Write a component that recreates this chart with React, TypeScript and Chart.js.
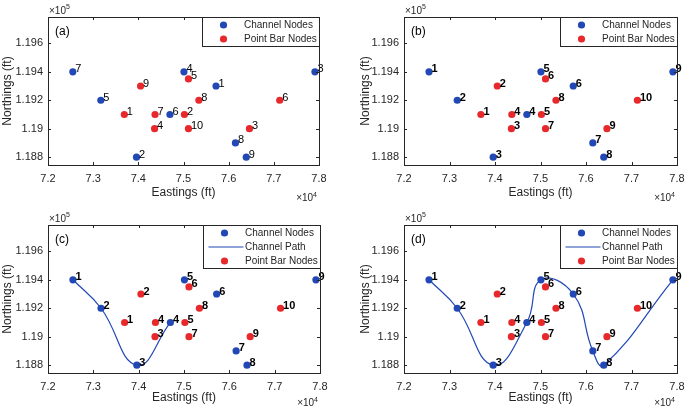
import React, { useEffect, useRef } from 'react';
import { Chart, registerables } from 'chart.js';
Chart.register(...registerables);

// ---- data ----
const xTicks = [72000, 73000, 74000, 75000, 76000, 77000, 78000];
const yTicks = [118800, 119000, 119200, 119400, 119600];
const xRange = [72000, 78000];
const yRange = [118745, 119785];

const channelX = [72550, 73170, 73960, 74700, 75010, 75720, 76150, 76390, 77910];
const channelY = [119400, 119200, 118800, 119100, 119400, 119300, 118900, 118800, 119400];
const barX = [73690, 74050, 74360, 74370, 75020, 75110, 75110, 75340, 76460, 77130];
const barY = [119100, 119300, 119000, 119100, 119100, 119350, 119000, 119200, 119000, 119200];

const channelLabelsA = ['7', '5', '2', '6', '4', '1', '8', '9', '3'];
const barLabelsA = ['1', '9', '4', '7', '2', '5', '10', '8', '3', '6'];
const channelLabelsOrdered = ['1', '2', '3', '4', '5', '6', '7', '8', '9'];
const barLabelsOrdered = ['1', '2', '3', '4', '5', '6', '7', '8', '9', '10'];

const FONT = '"Liberation Sans", Arial, Helvetica, sans-serif';
const TEXT = '#262626';
const BLUE = '#2148b4';
const RED = '#e8292b';

type Cfg = {
  letter: string;
  left: number; top: number; w: number; h: number;
  area: { l: number; r: number; t: number; b: number };
  padLeft: number;
  channelLabels: string[];
  barLabels: string[];
  pathCount: number;
  bold: boolean;
};

const panels: Cfg[] = [
  { letter: '(a)', left: 0, top: 0, w: 342, h: 205, area: { l: 48, r: 319, t: 17, b: 165 }, padLeft: 0, channelLabels: channelLabelsA, barLabels: barLabelsA, pathCount: 0, bold: false },
  { letter: '(b)', left: 342, top: 0, w: 343, h: 205, area: { l: 62, r: 335, t: 17, b: 165 }, padLeft: 16, channelLabels: channelLabelsOrdered, barLabels: barLabelsOrdered, pathCount: 0, bold: true },
  { letter: '(c)', left: 0, top: 205, w: 342, h: 205, area: { l: 48, r: 320, t: 20, b: 168 }, padLeft: 0, channelLabels: channelLabelsOrdered, barLabels: barLabelsOrdered, pathCount: 4, bold: true },
  { letter: '(d)', left: 342, top: 205, w: 343, h: 205, area: { l: 62, r: 335, t: 20, b: 168 }, padLeft: 16, channelLabels: channelLabelsOrdered, barLabels: barLabelsOrdered, pathCount: 9, bold: true },
];

const fmt = (v: number) => String(parseFloat(v.toFixed(5)));

function Panel({ cfg }: { cfg: Cfg }) {
  const ref = useRef<HTMLCanvasElement | null>(null);
  useEffect(() => {
    if (!ref.current) return;
    const datasets: any[] = [
      {
        label: 'Channel Nodes',
        data: channelX.map((x, i) => ({ x, y: channelY[i] })),
        backgroundColor: BLUE, borderColor: BLUE, pointRadius: 3.6, pointBorderWidth: 0,
        showLine: false, pointLabels: cfg.channelLabels,
      },
      {
        label: 'Point Bar Nodes',
        data: barX.map((x, i) => ({ x, y: barY[i] })),
        backgroundColor: RED, borderColor: RED, pointRadius: 3.6, pointBorderWidth: 0,
        showLine: false, pointLabels: cfg.barLabels,
      },
    ];
    if (cfg.pathCount > 0) {
      datasets.push({
        label: 'Channel Path',
        data: channelX.slice(0, cfg.pathCount).map((x, i) => ({ x, y: channelY[i] })),
        borderColor: BLUE, backgroundColor: BLUE, borderWidth: 1.2, pointRadius: 0,
        showLine: true, tension: 0.45, fill: false,
      });
    }

    const decor = {
      id: 'decor',
      afterDatasetsDraw(chart: any) {
        const ctx = chart.ctx;
        const { left, right, top, bottom } = chart.chartArea;
        const xs = chart.scales.x, ys = chart.scales.y;
        ctx.save();
        // point labels
        ctx.fillStyle = '#000';
        ctx.font = `${cfg.bold ? 'bold ' : ''}11px ${FONT}`;
        ctx.textAlign = 'left';
        ctx.textBaseline = 'middle';
        [0, 1].forEach((di) => {
          const meta = chart.getDatasetMeta(di);
          const labels = chart.data.datasets[di].pointLabels as string[];
          meta.data.forEach((pt: any, i: number) => {
            ctx.fillText(labels[i], pt.x + 2.5, pt.y - 2.5);
          });
        });
        // box + inward ticks
        ctx.strokeStyle = TEXT;
        ctx.lineWidth = 1;
        ctx.strokeRect(Math.round(left) + 0.5, Math.round(top) + 0.5, Math.round(right - left), Math.round(bottom - top));
        ctx.beginPath();
        xTicks.forEach((v) => {
          const px = Math.round(xs.getPixelForValue(v)) + 0.5;
          ctx.moveTo(px, bottom); ctx.lineTo(px, bottom - 3);
          ctx.moveTo(px, top); ctx.lineTo(px, top + 3);
        });
        yTicks.forEach((v) => {
          const py = Math.round(ys.getPixelForValue(v)) + 0.5;
          ctx.moveTo(left, py); ctx.lineTo(left + 3, py);
          ctx.moveTo(right, py); ctx.lineTo(right - 3, py);
        });
        ctx.stroke();
        // panel letter
        ctx.fillStyle = '#000';
        ctx.font = `12px ${FONT}`;
        ctx.textBaseline = 'middle';
        ctx.fillText(cfg.letter, left + 7, top + 15);
        // exponents
        ctx.fillStyle = TEXT;
        ctx.textBaseline = 'alphabetic';
        ctx.font = `10px ${FONT}`;
        ctx.textAlign = 'left';
        ctx.fillText('\u00d710', left + 1, top - 3.5);
        const w10 = ctx.measureText('\u00d710').width;
        ctx.font = `7px ${FONT}`;
        ctx.fillText('5', left + 1 + w10, top - 8);
        ctx.font = `7px ${FONT}`;
        const w4 = ctx.measureText('4').width;
        ctx.font = `10px ${FONT}`;
        const wx = ctx.measureText('\u00d710').width;
        const ex = right - 2 - w4 - wx;
        ctx.fillText('\u00d710', ex, 201);
        ctx.font = `7px ${FONT}`;
        ctx.fillText('4', ex + wx, 196.5);
        // legend
        const entries: { label: string; kind: string; color: string }[] = [
          { label: 'Channel Nodes', kind: 'pt', color: BLUE },
        ];
        if (cfg.pathCount > 0) entries.push({ label: 'Channel Path', kind: 'line', color: BLUE });
        entries.push({ label: 'Point Bar Nodes', kind: 'pt', color: RED });
        const bw = 117;
        const bh = 14 * entries.length + 1;
        const bx = Math.round(right - bw) + 0.5;
        const by = Math.round(top) + 0.5;
        ctx.fillStyle = '#fff';
        ctx.fillRect(bx, by, bw, bh);
        ctx.strokeStyle = TEXT;
        ctx.lineWidth = 1;
        ctx.strokeRect(bx, by, bw, bh);
        ctx.font = `10px ${FONT}`;
        ctx.textBaseline = 'middle';
        entries.forEach((e, i) => {
          const ey = by + 7.5 + i * 14;
          if (e.kind === 'pt') {
            ctx.fillStyle = e.color;
            ctx.beginPath();
            ctx.arc(bx + 21, ey, 3.6, 0, Math.PI * 2);
            ctx.fill();
          } else {
            ctx.strokeStyle = e.color;
            ctx.lineWidth = 1.2;
            ctx.beginPath();
            ctx.moveTo(bx + 5, ey); ctx.lineTo(bx + 40, ey);
            ctx.stroke();
          }
          ctx.fillStyle = TEXT;
          ctx.fillText(e.label, bx + 41.5, ey + 0.5);
        });
        ctx.restore();
      },
    };

    const chart = new Chart(ref.current, {
      type: 'scatter',
      data: { datasets },
      options: {
        responsive: false,
        animation: false,
        devicePixelRatio: 1,
        layout: { padding: { left: cfg.padLeft, top: cfg.area.t, right: cfg.w - cfg.area.r, bottom: 0 } },
        plugins: { legend: { display: false }, tooltip: { enabled: false } },
        scales: {
          x: {
            type: 'linear', min: xRange[0], max: xRange[1],
            afterBuildTicks: (s: any) => { s.ticks = xTicks.map((v) => ({ value: v })); },
            afterFit: (s: any) => { s.height = cfg.h - cfg.area.b; s.paddingLeft = 0; s.paddingRight = 0; },
            grid: { display: false, drawTicks: false },
            border: { display: false },
            ticks: { callback: (v: any) => fmt(Number(v) / 1e4), font: { family: FONT, size: 11 }, color: TEXT, padding: 7, maxRotation: 0, autoSkip: false },
            title: { display: true, text: 'Eastings (ft)', font: { family: FONT, size: 12 }, color: TEXT, padding: { top: 0, bottom: 5 } },
          },
          y: {
            type: 'linear', min: yRange[0], max: yRange[1],
            afterBuildTicks: (s: any) => { s.ticks = yTicks.map((v) => ({ value: v })); },
            afterFit: (s: any) => { s.width = cfg.area.l - cfg.padLeft; s.paddingTop = 0; s.paddingBottom = 0; },
            grid: { display: false, drawTicks: false },
            border: { display: false },
            ticks: { callback: (v: any) => fmt(Number(v) / 1e5), font: { family: FONT, size: 11 }, color: TEXT, padding: 5, autoSkip: false },
            title: { display: true, text: 'Northings (ft)', font: { family: FONT, size: 12 }, color: TEXT, padding: { top: 0, bottom: 0 } },
          },
        },
      } as any,
      plugins: [decor],
    });
    return () => chart.destroy();
  }, [cfg]);
  return (
    <canvas
      ref={ref}
      width={cfg.w}
      height={cfg.h}
      style={{ position: 'absolute', left: cfg.left, top: cfg.top, width: cfg.w, height: cfg.h }}
    />
  );
}

export default function App() {
  return (
    <div style={{ position: 'fixed', left: 0, top: 0, width: 685, height: 410, background: '#fff' }}>
      {panels.map((p) => (
        <Panel key={p.letter} cfg={p} />
      ))}
    </div>
  );
}
